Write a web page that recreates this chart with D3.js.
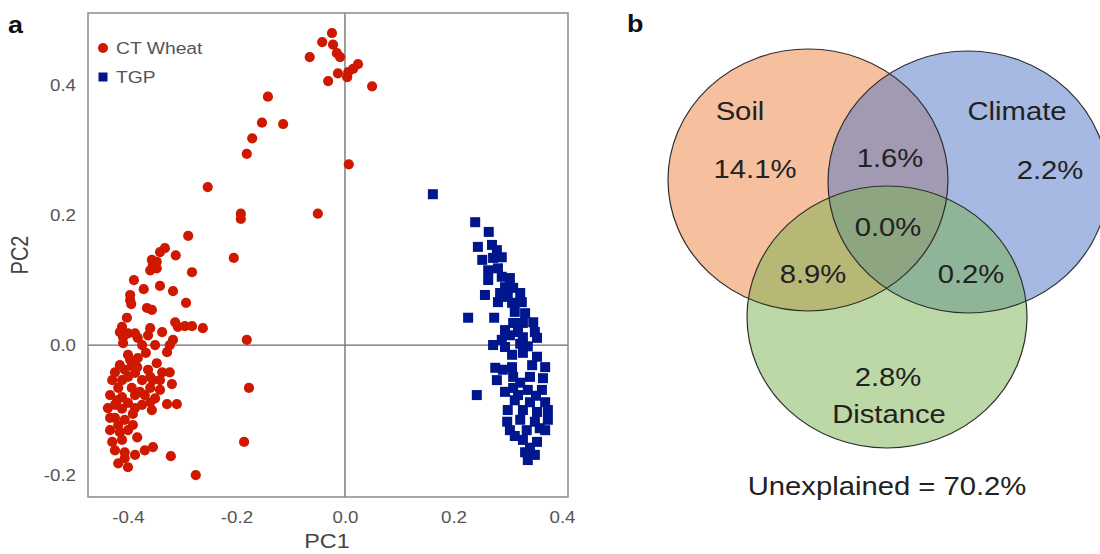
<!DOCTYPE html>
<html>
<head>
<meta charset="utf-8">
<script src="https://cdn.jsdelivr.net/npm/d3@7"></script>
<style>
  body { margin: 0; background: #fff; }
  svg { display: block; }
</style>
</head>
<body>
<svg id="chart" width="1100" height="554"></svg>
<script>
// ---- Panel a: PCA scores ----
const wheatPC1 = [
  -0.024,-0.042,-0.022,-0.015,-0.009,-0.065,0.024,0.015,0.006,-0.013,0.004,-0.031,0.050,
  -0.142,-0.153,-0.114,-0.171,-0.181,0.007,-0.253,-0.192,-0.192,-0.050,-0.289,-0.205,
  -0.332,-0.341,-0.312,-0.356,-0.347,-0.354,-0.359,-0.347,-0.282,-0.389,-0.371,-0.341,-0.317,
  -0.396,-0.396,-0.394,-0.293,-0.365,-0.356,-0.402,-0.313,-0.308,-0.295,-0.282,-0.262,
  -0.411,-0.415,-0.409,-0.400,-0.387,-0.382,-0.359,-0.363,-0.337,-0.317,-0.323,-0.181,-0.409,-0.374,-0.350,
  -0.367,-0.328,-0.400,-0.396,-0.347,-0.393,-0.424,-0.406,-0.387,-0.363,-0.337,-0.323,
  -0.429,-0.411,-0.374,-0.354,-0.319,-0.418,-0.393,-0.359,-0.341,-0.177,
  -0.433,-0.411,-0.387,-0.369,-0.350,-0.424,-0.400,-0.374,-0.328,-0.310,-0.356,
  -0.437,-0.411,-0.387,-0.424,-0.406,-0.391,-0.433,-0.415,-0.383,-0.429,-0.411,-0.186,
  -0.424,-0.406,-0.387,-0.369,-0.354,-0.418,-0.400,-0.321,-0.275,
  -0.382,-0.415,-0.359,-0.400,-0.378,-0.420,-0.359,-0.391,-0.418,-0.400,-0.406,-0.433,-0.341,-0.383
];
const wheatPC2 = [
  0.480,0.466,0.462,0.449,0.443,0.443,0.432,0.425,0.420,0.418,0.412,0.406,0.398,
  0.382,0.342,0.340,0.318,0.294,0.278,0.243,0.202,0.194,0.202,0.168,0.134,
  0.149,0.143,0.138,0.131,0.128,0.123,0.115,0.118,0.112,0.100,0.086,0.091,0.083,
  0.077,0.069,0.063,0.065,0.057,0.054,0.042,0.035,0.028,0.029,0.029,0.026,
  0.028,0.020,0.012,0.018,0.018,0.011,0.026,0.015,0.020,0.008,0.000,0.008,0.003,0.000,0.000,
  -0.012,-0.011,-0.015,-0.023,-0.028,-0.032,-0.042,-0.038,-0.043,-0.038,-0.042,-0.042,
  -0.054,-0.054,-0.054,-0.054,-0.060,-0.066,-0.066,-0.066,-0.069,-0.066,
  -0.077,-0.080,-0.077,-0.077,-0.082,-0.092,-0.089,-0.092,-0.091,-0.091,-0.100,
  -0.097,-0.098,-0.097,-0.112,-0.115,-0.123,-0.131,-0.134,-0.142,-0.149,-0.146,-0.149,
  -0.162,-0.165,-0.169,-0.162,-0.157,-0.182,-0.188,-0.171,-0.200,
  -0.020,-0.031,-0.049,-0.049,-0.072,-0.085,-0.088,-0.106,-0.123,-0.131,-0.174,-0.112,-0.054,-0.034
];
const tgpPC1 = [
  0.162,0.227,0.243,0.240,0.265,0.245,0.271,0.280,0.253,0.273,0.289,0.264,0.282,0.264,0.289,
  0.304,0.295,0.310,0.258,0.286,0.300,0.323,0.282,0.308,0.326,0.275,0.313,0.332,0.310,0.328,
  0.347,0.295,0.319,0.350,0.289,0.304,0.328,0.354,0.273,0.323,0.337,0.308,0.328,0.354,0.308,
  0.345,0.369,0.277,0.280,0.310,0.341,0.365,0.310,0.337,0.363,0.313,0.341,0.369,0.300,0.328,
  0.354,0.374,0.299,0.323,0.350,0.374,0.304,0.335,0.369,0.328,0.354,0.332,0.350,0.295,
  0.319,0.295,0.323,0.352,0.313,0.341,0.291,0.359,0.337
];
const tgpPC2 = [
  0.232,0.042,-0.077,0.189,0.174,0.151,0.154,0.146,0.131,0.134,0.135,0.115,0.118,0.100,0.105,
  0.103,0.089,0.088,0.077,0.080,0.074,0.080,0.066,0.065,0.066,0.042,0.051,0.049,0.034,0.034,
  0.035,0.023,0.020,0.020,0.008,0.015,0.012,0.011,0.000,0.002,-0.002,-0.015,-0.012,-0.018,-0.034,
  -0.031,-0.034,-0.035,-0.054,-0.049,-0.049,-0.051,-0.066,-0.069,-0.069,-0.085,-0.088,-0.088,-0.100,-0.100,
  -0.103,-0.100,-0.118,-0.115,-0.118,-0.115,-0.131,-0.131,-0.131,-0.146,-0.149,-0.165,-0.169,-0.003,
  -0.077,-0.072,-0.058,-0.078,-0.140,-0.158,-0.038,-0.128,-0.177
];
const groupNames = ["CT Wheat", "TGP"];
const xTicks = [-0.4, -0.2, 0.0, 0.2, 0.4];
const yTicks = [-0.2, 0.0, 0.2, 0.4];

// ---- Panel b: variance partitioning ----
const vennSets = ["Soil", "Climate", "Distance"];
// soil, climate, distance, soil∩climate, soil∩distance, climate∩distance, all three
const vennRegionValues = [14.1, 2.2, 2.8, 1.6, 8.9, 0.2, 0.0];
const unexplainedValue = 70.2;

const FONT = "'Liberation Sans', Arial, Helvetica, sans-serif";
const SX = 1.17; // horizontal glyph stretch used throughout the figure
const RED = "#cf1800", BLUE = "#00168c";

const svg = d3.select("#chart");

function label(g, x, y, str, opts = {}) {
  const t = g.append("g")
    .attr("transform", `translate(${x},${y}) ${opts.rotate ? `scale(${SX},1) rotate(-90)` : `scale(${SX},1)`}`)
    .append("text")
    .attr("text-anchor", opts.anchor || "middle")
    .attr("font-family", FONT)
    .attr("font-size", opts.size || 16)
    .attr("font-weight", opts.weight || "normal")
    .attr("fill", opts.color || "#444")
    .text(str);
  if (opts.dy) t.attr("dy", opts.dy);
  return t;
}

// ===== Panel a =====
const plot = { left: 88, right: 568, top: 13, bottom: 497 };
const x = d3.scaleLinear().domain([-0.4737, 0.4111]).range([plot.left, plot.right]);
const y = d3.scaleLinear().domain([-0.2338, 0.5108]).range([plot.bottom, plot.top]);

const pa = svg.append("g");

// zero reference lines
pa.append("line").attr("x1", x(0)).attr("x2", x(0)).attr("y1", plot.top).attr("y2", plot.bottom)
  .attr("stroke", "#6a6a6a").attr("stroke-width", 1.3);
pa.append("line").attr("x1", plot.left).attr("x2", plot.right).attr("y1", y(0)).attr("y2", y(0))
  .attr("stroke", "#6a6a6a").attr("stroke-width", 1.3);

// points
const wheat = wheatPC1.map((v, i) => ({ pc1: v, pc2: wheatPC2[i] }));
const tgp = tgpPC1.map((v, i) => ({ pc1: v, pc2: tgpPC2[i] }));

pa.append("g").selectAll("circle").data(wheat).join("circle")
  .attr("cx", d => x(d.pc1)).attr("cy", d => y(d.pc2)).attr("r", 5.1)
  .attr("fill", RED);

const sq = 10;
pa.append("g").selectAll("rect").data(tgp).join("rect")
  .attr("x", d => x(d.pc1) - sq / 2).attr("y", d => y(d.pc2) - sq / 2)
  .attr("width", sq).attr("height", sq).attr("fill", BLUE);

// frame
pa.append("rect").attr("x", plot.left).attr("y", plot.top)
  .attr("width", plot.right - plot.left).attr("height", plot.bottom - plot.top)
  .attr("fill", "none").attr("stroke", "#8a8a8a").attr("stroke-width", 1.5);

// axes (labels only, no tick marks); plain hyphen for negatives
const fmt = d => d.toFixed(1);
const xAxis = d3.axisBottom(x).tickValues(xTicks).tickFormat(fmt).tickSize(0).tickPadding(0);
const xg = pa.append("g").attr("transform", `translate(0,${plot.bottom})`).call(xAxis);
xg.select(".domain").remove();
xg.selectAll("text")
  .attr("y", 0).attr("dy", null)
  .attr("transform", `translate(0,26) scale(${SX},1)`)
  .attr("font-family", FONT).attr("font-size", 16).attr("fill", "#555");

const yAxis = d3.axisLeft(y).tickValues(yTicks).tickFormat(fmt).tickSize(0).tickPadding(0);
const yg = pa.append("g").attr("transform", `translate(${plot.left},0)`).call(yAxis);
yg.select(".domain").remove();
yg.selectAll("text")
  .attr("x", 0).attr("dy", "0.36em")
  .attr("transform", `translate(-12,0) scale(${SX},1)`)
  .attr("font-family", FONT).attr("font-size", 16).attr("fill", "#555");

label(pa, 327, 548, "PC1", { size: 20, color: "#444" });
label(pa, 28, 255, "PC2", { size: 20, color: "#444", rotate: true });

// legend
const lg = pa.append("g");
lg.append("circle").attr("cx", 103).attr("cy", 48).attr("r", 5).attr("fill", RED);
lg.append("rect").attr("x", 103 - 4.5).attr("y", 77 - 4.5).attr("width", 9).attr("height", 9).attr("fill", BLUE);
label(lg, 116, 48, groupNames[0], { anchor: "start", size: 16.5, dy: "0.36em", color: "#555" });
label(lg, 116, 77, groupNames[1], { anchor: "start", size: 16.5, dy: "0.36em", color: "#555" });

label(svg, 8, 33, "a", { anchor: "start", size: 23, weight: "bold", color: "#111" });

// ===== Panel b =====
const pb = svg.append("g");
const ellipses = [
  { cx: 808, cy: 180, fill: "#ed7f3d" },
  { cx: 968, cy: 182, fill: "#4d73c5" },
  { cx: 887, cy: 317, fill: "#77b14d" }
];
const RX = 140, RY = 131;

pb.append("g").selectAll("ellipse").data(ellipses).join("ellipse")
  .attr("cx", d => d.cx).attr("cy", d => d.cy).attr("rx", RX).attr("ry", RY)
  .attr("fill", d => d.fill).attr("fill-opacity", 0.5).attr("stroke", "none");
pb.append("g").selectAll("ellipse").data(ellipses).join("ellipse")
  .attr("cx", d => d.cx).attr("cy", d => d.cy).attr("rx", RX).attr("ry", RY)
  .attr("fill", "none").attr("stroke", "#2e2e2e").attr("stroke-width", 1.2);

const setLabelPos = [[740, 120], [1017, 120], [889, 423]];
vennSets.forEach((s, i) => label(pb, setLabelPos[i][0], setLabelPos[i][1], s, { size: 25, color: "#222" }));

const regionPos = [[755, 178], [1050, 179], [888, 386], [890, 167], [813, 283], [971, 283], [888, 236]];
vennRegionValues.forEach((v, i) =>
  label(pb, regionPos[i][0], regionPos[i][1], v.toFixed(1) + "%", { size: 25, color: "#222" }));

label(pb, 887, 495, "Unexplained = " + unexplainedValue.toFixed(1) + "%", { size: 25, color: "#222" });

label(svg, 627, 32, "b", { anchor: "start", size: 23, weight: "bold", color: "#111" });
</script>
</body>
</html>
